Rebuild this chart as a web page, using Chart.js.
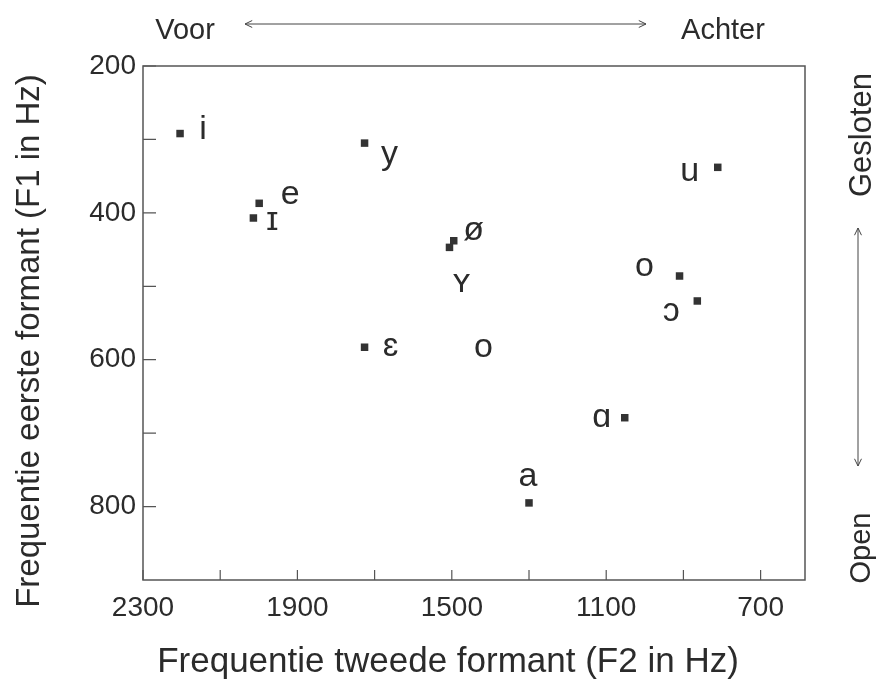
<!DOCTYPE html>
<html lang="nl">
<head>
<meta charset="UTF-8">
<title>Formanten van Nederlandse klinkers</title>
<script src="https://cdn.jsdelivr.net/npm/chart.js"></script>
<style>
  body { margin: 0; background: #fff; }
  #wrap { width: 879px; height: 684px; }
</style>
</head>
<body>
<div id="wrap"><canvas id="formantChart" width="879" height="684"></canvas></div>
<script>
// klinkers met eerste en tweede formant (Hz)
const vowels = ['i', 'y', 'e', 'ɪ', 'ø', 'ʏ', 'ɛ', 'a', 'ɑ', 'ɔ', 'o', 'u'];
const f2Values = [2204, 1726, 1999, 2014, 1495, 1506, 1726, 1300, 1052, 864, 910, 811];
const f1Values = [292, 305, 387, 407, 438, 447, 583, 795, 679, 520, 486, 338];

// losse letter zonder meetpunt
const extraLabels = ['o'];
const extraF2 = [1418];
const extraF1 = [583];

// assen
const f2Ticks = [2300, 2100, 1900, 1700, 1500, 1300, 1100, 900, 700];
const f2Labeled = [2300, 1900, 1500, 1100, 700];
const f1Ticks = [200, 300, 400, 500, 600, 700, 800];
const f1Labeled = [200, 400, 600, 800];

const FONT = "'Liberation Sans', Arial, 'DejaVu Sans', sans-serif";
const INK = '#2b2b2b';

// verschuiving van elke letter t.o.v. het punt (px, basislijn)
const labelOffset = {
    'i': [23, 5], 'y': [25, 21], 'e': [31, 1], 'ɪ': [19, 12],
    'ø': [20, -1], 'ʏ': [12, 45], 'ɛ': [26, 9], 'a': [-1, -17],
    'ɑ': [-23, 9], 'ɔ': [-26, 20], 'o': [-35, 0], 'u': [-28, 14]
};

function arrowHead(ctx, x, y, ang) {
    ctx.beginPath();
    ctx.moveTo(x + 8 * Math.cos(ang + 0.45), y + 8 * Math.sin(ang + 0.45));
    ctx.lineTo(x, y);
    ctx.lineTo(x + 8 * Math.cos(ang - 0.45), y + 8 * Math.sin(ang - 0.45));
    ctx.stroke();
}

function doubleArrow(ctx, x1, y1, x2, y2) {
    ctx.beginPath();
    ctx.moveTo(x1, y1);
    ctx.lineTo(x2, y2);
    ctx.stroke();
    const a = Math.atan2(y2 - y1, x2 - x1);
    arrowHead(ctx, x1, y1, a);
    arrowHead(ctx, x2, y2, a + Math.PI);
}

function verticalText(ctx, text, x, y) {
    ctx.save();
    ctx.translate(x, y);
    ctx.rotate(-Math.PI / 2);
    ctx.fillText(text, 0, 0);
    ctx.restore();
}

const extras = {
    id: 'extras',
    afterDraw(chart) {
        const ctx = chart.ctx;
        const area = chart.chartArea;
        const xs = chart.scales.x;
        const ys = chart.scales.y;
        ctx.save();

        // kader
        ctx.strokeStyle = '#555';
        ctx.lineWidth = 1.5;
        ctx.strokeRect(area.left, area.top, area.right - area.left, area.bottom - area.top);

        // streepjes naar binnen
        ctx.lineWidth = 1.2;
        ctx.beginPath();
        f2Ticks.forEach(v => {
            const px = xs.getPixelForValue(v);
            ctx.moveTo(px, area.bottom);
            ctx.lineTo(px, area.bottom - 10);
        });
        f1Ticks.forEach(v => {
            const py = ys.getPixelForValue(v);
            ctx.moveTo(area.left, py);
            ctx.lineTo(area.left + 13, py);
        });
        ctx.stroke();

        // letters bij de punten
        ctx.fillStyle = INK;
        ctx.font = '34px ' + FONT;
        ctx.textAlign = 'center';
        ctx.textBaseline = 'alphabetic';
        vowels.forEach((v, i) => {
            const off = labelOffset[v];
            ctx.fillText(v, xs.getPixelForValue(f2Values[i]) + off[0], ys.getPixelForValue(f1Values[i]) + off[1]);
        });
        extraLabels.forEach((v, i) => {
            ctx.fillText(v, xs.getPixelForValue(extraF2[i]), ys.getPixelForValue(extraF1[i]) + 10);
        });

        // astitels
        ctx.textBaseline = 'middle';
        ctx.font = '35px ' + FONT;
        ctx.fillText('Frequentie tweede formant (F2 in Hz)', 448, 662);
        ctx.font = '33px ' + FONT;
        verticalText(ctx, 'Frequentie eerste formant (F1 in Hz)', 30, 341);

        // voor / achter
        ctx.textBaseline = 'alphabetic';
        ctx.font = '29px ' + FONT;
        ctx.fillText('Voor', 185, 39);
        ctx.fillText('Achter', 723, 39);
        ctx.strokeStyle = '#444';
        ctx.lineWidth = 1;
        doubleArrow(ctx, 245, 24, 646, 24);

        // gesloten / open
        ctx.textBaseline = 'middle';
        ctx.font = '31px ' + FONT;
        verticalText(ctx, 'Gesloten', 862, 135);
        ctx.font = '29px ' + FONT;
        verticalText(ctx, 'Open', 862, 548);
        doubleArrow(ctx, 858, 228, 858, 466);

        ctx.restore();
    }
};

const ctx = document.getElementById('formantChart').getContext('2d');
new Chart(ctx, {
    type: 'scatter',
    data: {
        datasets: [{
            data: vowels.map((v, i) => ({ x: f2Values[i], y: f1Values[i] })),
            pointStyle: 'rect',
            pointRadius: 5.3,
            pointHoverRadius: 5.3,
            backgroundColor: '#333',
            borderWidth: 0
        }]
    },
    options: {
        responsive: false,
        animation: false,
        layout: { padding: { left: 0, top: 66, right: 74, bottom: 0 } },
        plugins: { legend: { display: false }, tooltip: { enabled: false } },
        scales: {
            x: {
                type: 'linear',
                reverse: true,
                min: 585,
                max: 2300,
                afterBuildTicks: s => { s.ticks = f2Ticks.map(v => ({ value: v })); },
                afterFit: s => { s.height = 104; },
                grid: { display: false, drawTicks: false },
                border: { display: false },
                ticks: {
                    autoSkip: false,
                    maxRotation: 0,
                    padding: 11,
                    color: INK,
                    font: { size: 28, family: FONT },
                    callback: v => f2Labeled.includes(v) ? String(v) : ''
                }
            },
            y: {
                type: 'linear',
                reverse: true,
                min: 200,
                max: 900,
                afterBuildTicks: s => { s.ticks = f1Ticks.map(v => ({ value: v })); },
                afterFit: s => { s.width = 143; },
                grid: { display: false, drawTicks: false },
                border: { display: false },
                ticks: {
                    autoSkip: false,
                    padding: 7,
                    color: INK,
                    font: { size: 28, family: FONT },
                    callback: v => f1Labeled.includes(v) ? String(v) : ''
                }
            }
        }
    },
    plugins: [extras]
});
</script>
</body>
</html>
